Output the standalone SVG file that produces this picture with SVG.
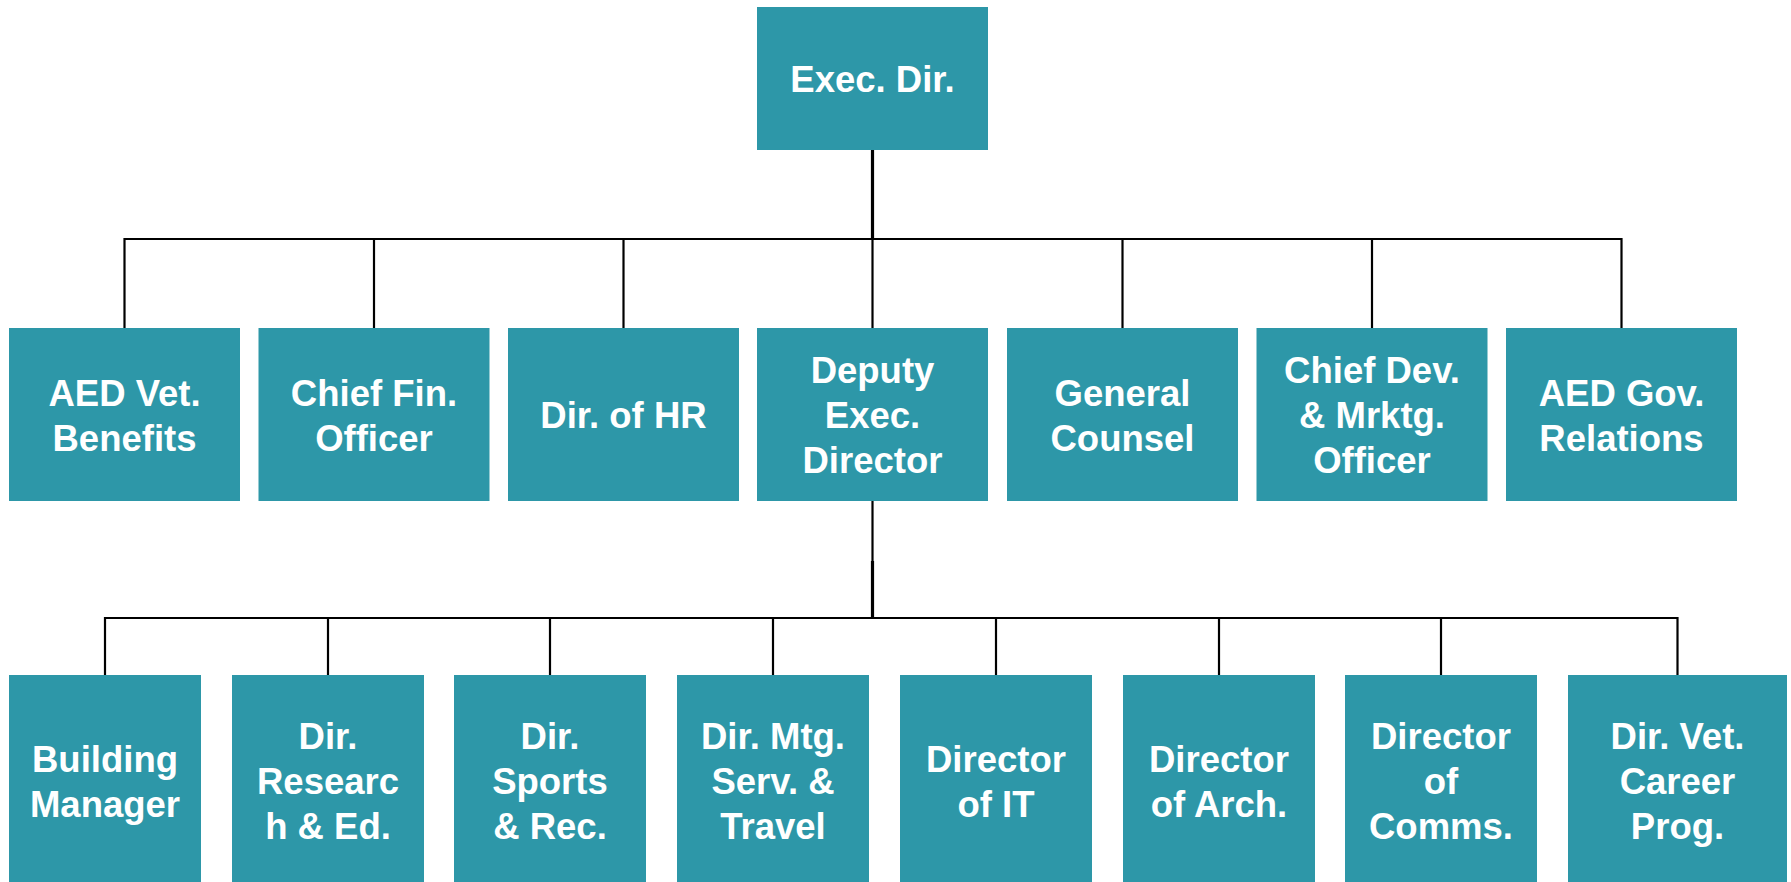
<svg xmlns="http://www.w3.org/2000/svg" width="1791" height="882" viewBox="0 0 1791 882">
  <style>
    .box { fill: #2D97A8; }
    .lbl { fill: #FFFFFF; font-family: "Liberation Sans", Arial, sans-serif; font-weight: bold; font-size: 36.5px; text-anchor: middle; }
    .wire { stroke: #000000; stroke-width: 2.2; fill: none; }
    .trunk { stroke: #000000; stroke-width: 3.2; fill: none; }
  </style>
  <rect width="1791" height="882" fill="#FFFFFF"/>

  <!-- connectors -->
  <g id="connectors">
    <line class="trunk" x1="872.5" y1="150" x2="872.5" y2="239"/>
    <path class="wire" d="M124.5 328 V239 H1621.5 V328"/>
    <line class="wire" x1="374" y1="239" x2="374" y2="328"/>
    <line class="wire" x1="623.5" y1="239" x2="623.5" y2="328"/>
    <line class="wire" x1="872.5" y1="239" x2="872.5" y2="328"/>
    <line class="wire" x1="1122.5" y1="239" x2="1122.5" y2="328"/>
    <line class="wire" x1="1372" y1="239" x2="1372" y2="328"/>

    <line class="wire" x1="872.5" y1="501" x2="872.5" y2="618"/>
    <line class="trunk" x1="872.5" y1="561" x2="872.5" y2="618"/>
    <path class="wire" d="M105 675 V618 H1677.5 V675"/>
    <line class="wire" x1="328" y1="618" x2="328" y2="675"/>
    <line class="wire" x1="550" y1="618" x2="550" y2="675"/>
    <line class="wire" x1="773" y1="618" x2="773" y2="675"/>
    <line class="wire" x1="996" y1="618" x2="996" y2="675"/>
    <line class="wire" x1="1219" y1="618" x2="1219" y2="675"/>
    <line class="wire" x1="1441" y1="618" x2="1441" y2="675"/>
  </g>

  <!-- top -->
  <g id="exec-dir">
    <rect class="box" x="757" y="7" width="231" height="143"/>
    <text class="lbl" x="872.5" y="92">Exec. Dir.</text>
  </g>

  <!-- second tier -->
  <g id="aed-vet-benefits">
    <rect class="box" x="9" y="328" width="231" height="173"/>
    <text class="lbl" x="124.5" y="405.5"><tspan x="124.5">AED Vet.</tspan><tspan x="124.5" dy="45">Benefits</tspan></text>
  </g>
  <g id="chief-fin-officer">
    <rect class="box" x="258.5" y="328" width="231" height="173"/>
    <text class="lbl" x="374" y="405.5"><tspan x="374">Chief Fin.</tspan><tspan x="374" dy="45">Officer</tspan></text>
  </g>
  <g id="dir-hr">
    <rect class="box" x="508" y="328" width="231" height="173"/>
    <text class="lbl" x="623.5" y="428">Dir. of HR</text>
  </g>
  <g id="deputy-exec-director">
    <rect class="box" x="757" y="328" width="231" height="173"/>
    <text class="lbl" x="872.5" y="383"><tspan x="872.5">Deputy</tspan><tspan x="872.5" dy="45">Exec.</tspan><tspan x="872.5" dy="45">Director</tspan></text>
  </g>
  <g id="general-counsel">
    <rect class="box" x="1007" y="328" width="231" height="173"/>
    <text class="lbl" x="1122.5" y="405.5"><tspan x="1122.5">General</tspan><tspan x="1122.5" dy="45">Counsel</tspan></text>
  </g>
  <g id="chief-dev-mrktg-officer">
    <rect class="box" x="1256.5" y="328" width="231" height="173"/>
    <text class="lbl" x="1372" y="383"><tspan x="1372">Chief Dev.</tspan><tspan x="1372" dy="45">&amp; Mrktg.</tspan><tspan x="1372" dy="45">Officer</tspan></text>
  </g>
  <g id="aed-gov-relations">
    <rect class="box" x="1506" y="328" width="231" height="173"/>
    <text class="lbl" x="1621.5" y="405.5"><tspan x="1621.5">AED Gov.</tspan><tspan x="1621.5" dy="45">Relations</tspan></text>
  </g>

  <!-- third tier -->
  <g id="building-manager">
    <rect class="box" x="9" y="675" width="192" height="212"/>
    <text class="lbl" x="105" y="771.5"><tspan x="105">Building</tspan><tspan x="105" dy="45">Manager</tspan></text>
  </g>
  <g id="dir-research-ed">
    <rect class="box" x="232" y="675" width="192" height="212"/>
    <text class="lbl" x="328" y="748.5"><tspan x="328">Dir.</tspan><tspan x="328" dy="45">Researc</tspan><tspan x="328" dy="45">h &amp; Ed.</tspan></text>
  </g>
  <g id="dir-sports-rec">
    <rect class="box" x="454" y="675" width="192" height="212"/>
    <text class="lbl" x="550" y="748.5"><tspan x="550">Dir.</tspan><tspan x="550" dy="45">Sports</tspan><tspan x="550" dy="45">&amp; Rec.</tspan></text>
  </g>
  <g id="dir-mtg-serv-travel">
    <rect class="box" x="677" y="675" width="192" height="212"/>
    <text class="lbl" x="773" y="748.5"><tspan x="773">Dir. Mtg.</tspan><tspan x="773" dy="45">Serv. &amp;</tspan><tspan x="773" dy="45">Travel</tspan></text>
  </g>
  <g id="director-it">
    <rect class="box" x="900" y="675" width="192" height="212"/>
    <text class="lbl" x="996" y="771.5"><tspan x="996">Director</tspan><tspan x="996" dy="45">of IT</tspan></text>
  </g>
  <g id="director-arch">
    <rect class="box" x="1123" y="675" width="192" height="212"/>
    <text class="lbl" x="1219" y="771.5"><tspan x="1219">Director</tspan><tspan x="1219" dy="45">of Arch.</tspan></text>
  </g>
  <g id="director-comms">
    <rect class="box" x="1345" y="675" width="192" height="212"/>
    <text class="lbl" x="1441" y="748.5"><tspan x="1441">Director</tspan><tspan x="1441" dy="45">of</tspan><tspan x="1441" dy="45">Comms.</tspan></text>
  </g>
  <g id="dir-vet-career-prog">
    <rect class="box" x="1568" y="675" width="219" height="212"/>
    <text class="lbl" x="1677.5" y="748.5"><tspan x="1677.5">Dir. Vet.</tspan><tspan x="1677.5" dy="45">Career</tspan><tspan x="1677.5" dy="45">Prog.</tspan></text>
  </g>
</svg>
